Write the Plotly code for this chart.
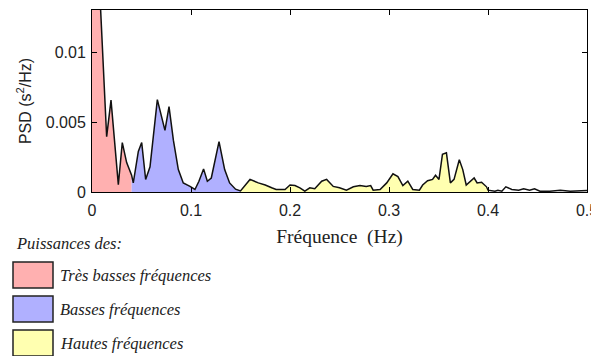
import plotly.graph_objects as go

# spectre PSD
freq = [0.000, 0.0148, 0.0192, 0.0266, 0.0306, 0.035, 0.040, 0.0417, 0.0468, 0.0502,
        0.0542, 0.0586, 0.0660, 0.0704, 0.0737, 0.0778, 0.0822, 0.0872, 0.0922, 0.099,
        0.104, 0.108, 0.1127, 0.1165, 0.1205, 0.1283, 0.134, 0.139, 0.145, 0.150,
        0.1596, 0.168, 0.175, 0.1815, 0.186, 0.195, 0.200, 0.205, 0.210, 0.215,
        0.220, 0.225, 0.232, 0.237, 0.2437, 0.250, 0.257, 0.264, 0.2707, 0.277,
        0.2815, 0.284, 0.291, 0.2977, 0.304, 0.309, 0.314, 0.319, 0.324, 0.3307,
        0.334, 0.339, 0.344, 0.347, 0.3505, 0.354, 0.358, 0.362, 0.3657, 0.371,
        0.3745, 0.378, 0.382, 0.386, 0.389, 0.3935, 0.3985, 0.400, 0.407, 0.410,
        0.414, 0.418, 0.424, 0.431, 0.436, 0.442, 0.447, 0.4525, 0.4625, 0.473,
        0.483, 0.496, 0.500]
psd = [0.0260, 0.00395, 0.00656, 0.00053, 0.00353, 0.0021, 0.0012, 0.00065, 0.0029, 0.00353,
       0.00089, 0.0018, 0.0066, 0.0053, 0.0044, 0.0061, 0.0037, 0.0016, 0.00065, 0.0004,
       0.00018, 0.00077, 0.00165, 0.00077, 0.0010, 0.0036, 0.0016, 0.00065, 0.0002, 0.00008,
       0.0009, 0.00065, 0.0005, 0.0003, 0.00018, 0.00018, 0.0005, 0.00046, 0.0003, 0.00006,
       0.0003, 0.00023, 0.00077, 0.0009, 0.0004, 0.0003, 0.00013, 0.00037, 0.00046, 0.0004,
       0.00046, 0.00013, 0.00018, 0.00065, 0.0013, 0.0011, 0.00046, 0.00077, 0.00018, 0.00013,
       0.0005, 0.0008, 0.0009, 0.0012, 0.0009, 0.0027, 0.0028, 0.00065, 0.0009, 0.0023,
       0.0016, 0.0005, 0.00077, 0.0010, 0.00065, 0.0007, 0.00037, 0.00013, 0.00006, 0.00013,
       0.00006, 0.00037, 0.00018, 0.00013, 0.00023, 0.00013, 0.00023, 0.00006, 0.00006, 0.00013,
       0.00006, 0.00013, 0.0001]

# bandes de fréquence
band_names = ["Très basses fréquences", "Basses fréquences", "Hautes fréquences"]
band_edges = [(0.0, 0.04), (0.04, 0.15), (0.15, 0.40)]
band_colors = ["#ffb0b0", "#b0b0ff", "#ffffb0"]

x_ticks = [0, 0.1, 0.2, 0.3, 0.4, 0.5]
x_ticktext = ["0", "0.1", "0.2", "0.3", "0.4", "0.5"]
y_ticks = [0, 0.005, 0.01]
y_ticktext = ["0", "0.005", "0.01"]

# la page ajoute une marge de 8px autour du graphique
OFF = 8
W, H = 599 - OFF, 356 - OFF
L, R, T, B = 92 - OFF, 12, 10 - OFF, 164


def px_x(px):
    # position en pixels de la page -> coordonnée paper
    return (px - OFF - L) / (W - L - R)


def px_y(py):
    return (H - B - (py - OFF)) / (H - T - B)


fig = go.Figure()

for name, (lo, hi), col in zip(band_names, band_edges, band_colors):
    xs = [f for f in freq if lo <= f <= hi]
    ys = [p for f, p in zip(freq, psd) if lo <= f <= hi]
    fig.add_trace(go.Scatter(x=xs, y=ys, mode="lines", fill="tozeroy",
                             fillcolor=col, line=dict(width=0), name=name,
                             showlegend=False, hoverinfo="skip"))

# courbe PSD
fig.add_trace(go.Scatter(x=freq, y=psd, mode="lines",
                         line=dict(color="#111111", width=1.5), showlegend=False))

# légende dessinée à la main
fig.add_annotation(text="<i>Puissances des:</i>", x=px_x(14), y=px_y(244),
                   xref="paper", yref="paper", xanchor="left", yanchor="middle",
                   showarrow=False, font=dict(family="Liberation Serif", size=16.5, color="#222"))
box_tops = [262, 296, 330]
for name, col, top in zip(band_names, band_colors, box_tops):
    fig.add_shape(type="rect", xref="paper", yref="paper",
                  x0=px_x(13), x1=px_x(53), y0=px_y(top), y1=px_y(top + 26),
                  fillcolor=col, line=dict(color="#222", width=1.5))
    fig.add_annotation(text="<i>" + name + "</i>", x=px_x(58), y=px_y(top + 13),
                       xref="paper", yref="paper", xanchor="left", yanchor="middle",
                       showarrow=False,
                       font=dict(family="Liberation Serif", size=16.5, color="#222"))

axis_common = dict(showline=True, linecolor="black", linewidth=1, mirror="ticks",
                   ticks="inside", ticklen=5, tickcolor="black", showgrid=False,
                   zeroline=False,
                   tickfont=dict(family="Liberation Sans", size=16, color="#222"))

fig.update_xaxes(range=[0, 0.5], tickvals=x_ticks, ticktext=x_ticktext,
                 title=dict(text="Fréquence  (Hz)", standoff=11,
                            font=dict(family="Liberation Serif", size=19.5, color="#222")),
                 ticklabelstandoff=4, **axis_common)
fig.update_yaxes(range=[0, 0.013], tickvals=y_ticks, ticktext=y_ticktext,
                 title=dict(text="PSD (s<sup>2</sup>/Hz)", standoff=10,
                            font=dict(family="Liberation Sans", size=16, color="#222")),
                 ticklabelstandoff=2, **axis_common)

fig.update_layout(width=W, height=H, margin=dict(l=L, r=R, t=T, b=B),
                  paper_bgcolor="white", plot_bgcolor="white")

fig.write_html("out.html")
